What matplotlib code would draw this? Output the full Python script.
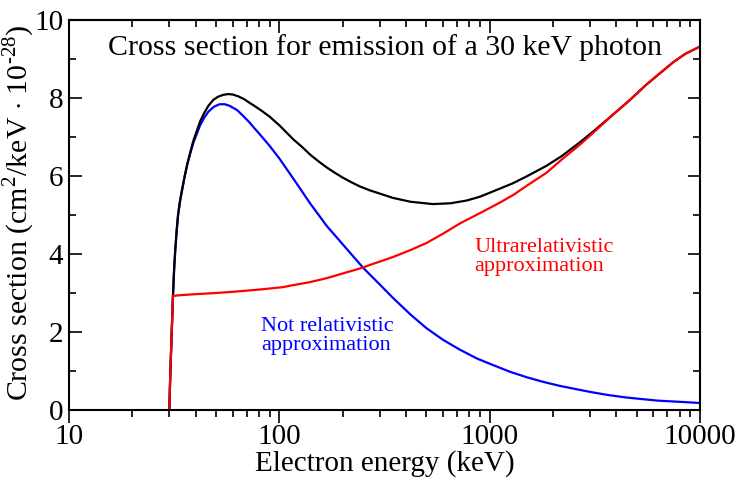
import matplotlib
matplotlib.use("Agg")
import matplotlib.pyplot as plt
from matplotlib.ticker import LogLocator, MultipleLocator, NullFormatter

plt.rcParams['font.family'] = ['Liberation Serif', 'DejaVu Serif']
plt.rcParams['mathtext.fontset'] = 'custom'
plt.rcParams['mathtext.rm'] = 'Liberation Serif'

# electron energy (keV) and cross section values
e_total = [30, 30.3, 30.7, 31.2, 31.6, 32, 32.5, 33, 33.7, 34.5, 35.5, 36.5, 37.7, 39, 42, 44,
           46, 48.5, 51, 54, 57, 60, 64, 68, 72, 76, 81, 90, 100, 117, 128, 140, 154, 168,
           184, 200, 220, 242, 270, 300, 346, 420, 536, 650, 776, 900, 1111, 1285, 1500,
           1860, 2200, 2680, 3200, 3850, 4600, 5550, 6500, 7470, 8500, 10000]
s_total = [0, 0.9, 1.8, 2.9, 3.6, 4.1, 4.6, 5.0, 5.35, 5.65, 6.0, 6.3, 6.6, 6.9, 7.4, 7.62,
           7.8, 7.95, 8.03, 8.08, 8.1, 8.09, 8.04, 7.97, 7.88, 7.8, 7.7, 7.52, 7.3, 6.93, 6.75,
           6.55, 6.37, 6.22, 6.08, 5.96, 5.84, 5.73, 5.63, 5.55, 5.44, 5.34, 5.28, 5.3, 5.37,
           5.47, 5.67, 5.81, 5.99, 6.26, 6.51, 6.86, 7.2, 7.57, 7.93, 8.34, 8.65, 8.92, 9.13, 9.32]

e_nonrel = [30, 30.3, 30.7, 31.2, 31.6, 32, 32.5, 33, 33.7, 34.5, 35.5, 36.5, 37.7, 39, 42, 44,
            46, 49, 52, 55, 58, 63, 67, 72, 76, 81, 90, 100, 117, 140, 168, 200, 250, 300,
            346, 420, 500, 600, 720, 870, 1040, 1250, 1500, 1800, 2150, 2600, 3100, 3700,
            4470, 5300, 6300, 8000, 10000]
s_nonrel = [0, 0.9, 1.8, 2.9, 3.6, 4.1, 4.6, 5.0, 5.35, 5.65, 6.0, 6.3, 6.58, 6.85, 7.3, 7.5,
            7.65, 7.78, 7.84, 7.84, 7.8, 7.69, 7.55, 7.38, 7.23, 7.06, 6.77, 6.45, 5.92, 5.3,
            4.72, 4.25, 3.65, 3.22, 2.88, 2.45, 2.1, 1.8, 1.55, 1.32, 1.15, 0.98, 0.84, 0.72,
            0.62, 0.53, 0.45, 0.38, 0.32, 0.28, 0.24, 0.21, 0.18]

e_ultra = [30, 30.3, 30.7, 31.2, 33, 40, 50, 60, 81, 104, 116, 140, 168, 200, 242, 280,
           346, 420, 500, 600, 720, 900, 1120, 1300, 1500, 1860, 2200, 2680, 3200, 3850,
           4600, 5550, 6500, 7470, 8500, 10000]
s_ultra = [0, 0.9, 1.8, 2.92, 2.94, 2.97, 3.0, 3.03, 3.09, 3.15, 3.2, 3.28, 3.38, 3.5, 3.63, 3.75,
           3.92, 4.1, 4.28, 4.52, 4.78, 5.05, 5.32, 5.52, 5.75, 6.08, 6.42, 6.8, 7.17, 7.57,
           7.93, 8.34, 8.65, 8.92, 9.13, 9.32]

fig = plt.figure(figsize=(7.45, 4.84), dpi=100)
ax = fig.add_axes([69/745, 1-410/484, 631/745, 390/484])

ax.plot(e_nonrel, s_nonrel, color='#0000ff', lw=1.6)
ax.plot(e_total, s_total, color='black', lw=1.6)
ax.plot(e_ultra, s_ultra, color='#ff0000', lw=1.6)

ax.set_xscale('log')
ax.set_xlim(10, 10000)
ax.set_ylim(0, 10)

for s in ax.spines.values():
    s.set_linewidth(1.5)

ax.xaxis.set_minor_locator(LogLocator(base=10, subs=range(2, 10), numticks=20))
ax.xaxis.set_minor_formatter(NullFormatter())
ax.yaxis.set_major_locator(MultipleLocator(2))
ax.yaxis.set_minor_locator(MultipleLocator(1))
ax.set_xticks([10, 100, 1000, 10000], ['10', '100', '1000', '10000'])

ax.tick_params(axis='x', which='both', direction='out', bottom=True, top=False,
               labelsize=21, pad=1)
ax.tick_params(axis='y', which='both', direction='in', left=True, right=True,
               labelsize=21, pad=4)
ax.tick_params(which='major', length=9, width=1.2)
ax.tick_params(which='minor', length=5, width=1.2)

top = ax.secondary_xaxis('top')
top.xaxis.set_major_locator(LogLocator(base=10, numticks=10))
top.xaxis.set_minor_locator(LogLocator(base=10, subs=range(2, 10), numticks=20))
top.tick_params(which='both', direction='in', labeltop=False, width=1.2)
top.tick_params(which='major', length=9)
top.tick_params(which='minor', length=5)
top.spines['top'].set_linewidth(1.5)

ax.set_xlabel('Electron energy (keV)', fontsize=21, labelpad=0)
ax.set_ylabel('Cross section (cm$^{\\rm 2}$/keV $\\cdot$ 10$^{\\rm \u201028}$)', fontsize=21.5)
ax.yaxis.set_label_coords(-0.05, 0.507)

ax.text(0.5, 0.93, 'Cross section for emission of a 30 keV photon',
        transform=ax.transAxes, ha='center', va='center', fontsize=21.5)
ax.text(82, 1.9, 'Not relativistic\napproximation', color='#0000ff',
        ha='left', va='center', fontsize=16, linespacing=0.95)
ax.text(843, 3.92, 'Ultrarelativistic\napproximation', color='#ff0000',
        ha='left', va='center', fontsize=16, linespacing=0.95)

fig.savefig('out.png', dpi=100)
